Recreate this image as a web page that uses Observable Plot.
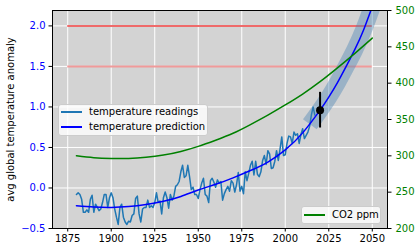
<!DOCTYPE html>
<html><head><meta charset="utf-8">
<script src="https://cdn.jsdelivr.net/npm/d3@7"></script>
<script src="https://cdn.jsdelivr.net/npm/@observablehq/plot@0.6"></script>
<style>
body{margin:0;background:#fff;}
#wrap{position:relative;width:420px;height:252px;font-family:"DejaVu Sans",sans-serif;}
#wrap svg{position:absolute;left:0;top:0;}
.legend{position:absolute;background:rgba(255,255,255,0.8);border:1px solid #cccccc;border-radius:3px;font:10px "DejaVu Sans";color:#000;box-sizing:border-box;}
.row{position:absolute;left:0;height:12px;line-height:12px;white-space:nowrap;}
.sw{position:absolute;top:5px;height:0;width:21px;}
.lbl{position:absolute;top:0;}
</style></head>
<body>
<div id="wrap"></div>
<script>
// ---- data ----
const tempYears = d3.range(1880, 2018);
const tempValues = [
 -0.08,-0.06,-0.08,-0.14,-0.30,-0.30,-0.27,-0.30,-0.14,-0.09,
 -0.30,-0.20,-0.24,-0.28,-0.26,-0.18,-0.08,-0.08,-0.24,-0.12,
 -0.06,-0.12,-0.26,-0.36,-0.45,-0.24,-0.20,-0.36,-0.42,-0.45,
 -0.41,-0.42,-0.34,-0.32,-0.13,-0.10,-0.32,-0.42,-0.26,-0.24,
 -0.24,-0.15,-0.24,-0.22,-0.24,-0.18,-0.06,-0.18,-0.16,-0.32,
 -0.12,-0.05,-0.12,-0.25,-0.08,-0.15,-0.10,0.02,0.04,0.08,
 0.20,0.28,0.13,0.15,0.28,0.14,-0.02,0.01,-0.08,-0.08,
 -0.13,-0.02,0.06,0.12,-0.08,-0.10,-0.18,0.09,0.12,0.07,
 0.01,0.10,0.06,0.08,-0.15,-0.07,-0.02,0.02,-0.04,0.09,
 0.06,-0.05,0.04,0.19,-0.04,0.02,-0.07,0.20,0.09,0.18,
 0.28,0.33,0.16,0.33,0.17,0.14,0.20,0.34,0.40,0.29,
 0.46,0.42,0.24,0.25,0.33,0.46,0.34,0.48,0.63,0.40,
 0.41,0.55,0.64,0.63,0.55,0.69,0.65,0.67,0.55,0.66,
 0.73,0.61,0.65,0.69,0.76,0.90,1.00,0.90
];
const predYears  = [1880,1890,1900,1910,1920,1930,1940,1950,1960,1970,1980,1990,2000,2010,2020,2025,2030,2035,2040,2045,2050];
const predValues = [-0.22,-0.235,-0.24,-0.23,-0.205,-0.165,-0.105,-0.025,0.045,0.125,0.215,0.32,0.47,0.68,0.96,1.12,1.30,1.50,1.71,1.95,2.24];
const bandYears  = [2017,2020,2025,2030,2035,2040,2045,2050];
const bandValues = [0.87,0.96,1.12,1.30,1.50,1.71,1.95,2.24];
const co2Years  = [1880,1890,1900,1910,1920,1930,1940,1950,1960,1970,1980,1990,2000,2010,2020,2030,2040,2050];
const co2Values = [300,297.5,296.5,296.5,298,301,306,313,321.5,331,343,356,370,385,402,421,441,462];
const thresholdValues = [2.0, 1.5];
const thresholdColors = ["#ef6a6a", "#f09a9a"];
const thresholdFrom = 1875, thresholdTo = 2050;
const errYear = [2020], errValue = [0.96], errLow = [0.74], errHigh = [1.18];
const xTicks = [1875,1900,1925,1950,1975,2000,2025,2050];
const yTicks = [-0.5,0.0,0.5,1.0,1.5,2.0];
const co2Ticks = [200,250,300,350,400,450,500];
const yLabel = "avg global temperature anomaly";
const legendLeft = [["temperature readings","#1f77b4"],["temperature prediction","blue"]];
const legendRight = [["CO2 ppm","green"]];

// ---- layout ----
const W = 420, H = 252;
const M = {marginTop:10, marginRight:33, marginBottom:24, marginLeft:52};
const xDomain = [1866.25, 2058.75];
const fmtT = d => d.toFixed(1).replace("-", "\u2212");
const style = {background:"transparent", fontFamily:"DejaVu Sans", fontSize:"10px", color:"black", overflow:"visible"};

const thr = thresholdValues.map((v,i)=>({v, c:thresholdColors[i]}));

const p1 = Plot.plot({
  width:W, height:H, ...M, style,
  x:{domain:xDomain},
  y:{domain:[-0.5,2.19]},
  marks:[
    Plot.frame({fill:"#d3d3d3", stroke:null}),
    Plot.gridX(xTicks, {stroke:"white", strokeOpacity:1, strokeWidth:1}),
    Plot.gridY(yTicks, {stroke:"white", strokeOpacity:1, strokeWidth:1}),
    Plot.ruleY(thr, {y:"v", x1:thresholdFrom, x2:thresholdTo, stroke:"c", strokeWidth:2}),
    Plot.line(tempValues, {x:(d,i)=>tempYears[i], y:d=>d, stroke:"#1f77b4", strokeWidth:1.5}),
    Plot.line(bandValues, {x:(d,i)=>bandYears[i], y:d=>d, stroke:"steelblue", strokeOpacity:0.4, strokeWidth:17, strokeLinecap:"square", curve:"natural", clip:true}),
    Plot.line(predValues, {x:(d,i)=>predYears[i], y:d=>d, stroke:"blue", strokeWidth:1.5, curve:"natural", clip:true}),
    Plot.ruleX(errYear, {x:d=>d, y1:(d,i)=>errLow[i], y2:(d,i)=>errHigh[i], stroke:"black", strokeWidth:2}),
    Plot.dot(errYear, {x:d=>d, y:(d,i)=>errValue[i], r:4, fill:"black"}),
    Plot.axisX(xTicks, {tickSize:3.5, tickPadding:3, tickFormat:d=>String(d), label:null}),
    Plot.axisY(yTicks, {tickSize:3.5, tickPadding:3.5, tickFormat:fmtT, stroke:"black", fill:"blue", label:null}),
    Plot.axisY(yTicks, {tickSize:0, tickFormat:()=>"", fill:"black",
      label:yLabel, labelAnchor:"center", labelArrow:"none", labelOffset:46}),
    Plot.frame({stroke:"black", strokeWidth:1})
  ]
});

const p2 = Plot.plot({
  width:W, height:H, ...M, style,
  x:{domain:xDomain, axis:null},
  y:{domain:[200,500]},
  marks:[
    Plot.line(co2Values, {x:(d,i)=>co2Years[i], y:d=>d, stroke:"green", strokeWidth:1.5, curve:"natural"}),
    Plot.axisY(co2Ticks, {anchor:"right", tickSize:3.5, tickPadding:4.5, tickFormat:d=>String(d), stroke:"black", fill:"green", label:null})
  ]
});

const wrap = document.getElementById("wrap");
wrap.appendChild(p1);
wrap.appendChild(p2);

function legend(items, box, swLeft, txtLeft, rowTops){
  const el = document.createElement("div");
  el.className = "legend";
  Object.assign(el.style, {left:box[0]+"px", top:box[1]+"px", width:box[2]+"px", height:box[3]+"px"});
  items.forEach(([t,c],i)=>{
    const r = document.createElement("div");
    r.className = "row"; r.style.top = rowTops[i]+"px";
    const s = document.createElement("div");
    s.className = "sw"; s.style.left = swLeft+"px"; s.style.borderTop = "2px solid "+c;
    const l = document.createElement("div");
    l.className = "lbl"; l.style.left = txtLeft+"px"; l.textContent = t;
    r.appendChild(s); r.appendChild(l); el.appendChild(r);
  });
  wrap.appendChild(el);
}
legend(legendLeft, [58,104,150,32], 2, 30, [1,16]);
legend(legendRight, [301,206,80,18], 2, 30, [2]);
</script>
</body></html>
